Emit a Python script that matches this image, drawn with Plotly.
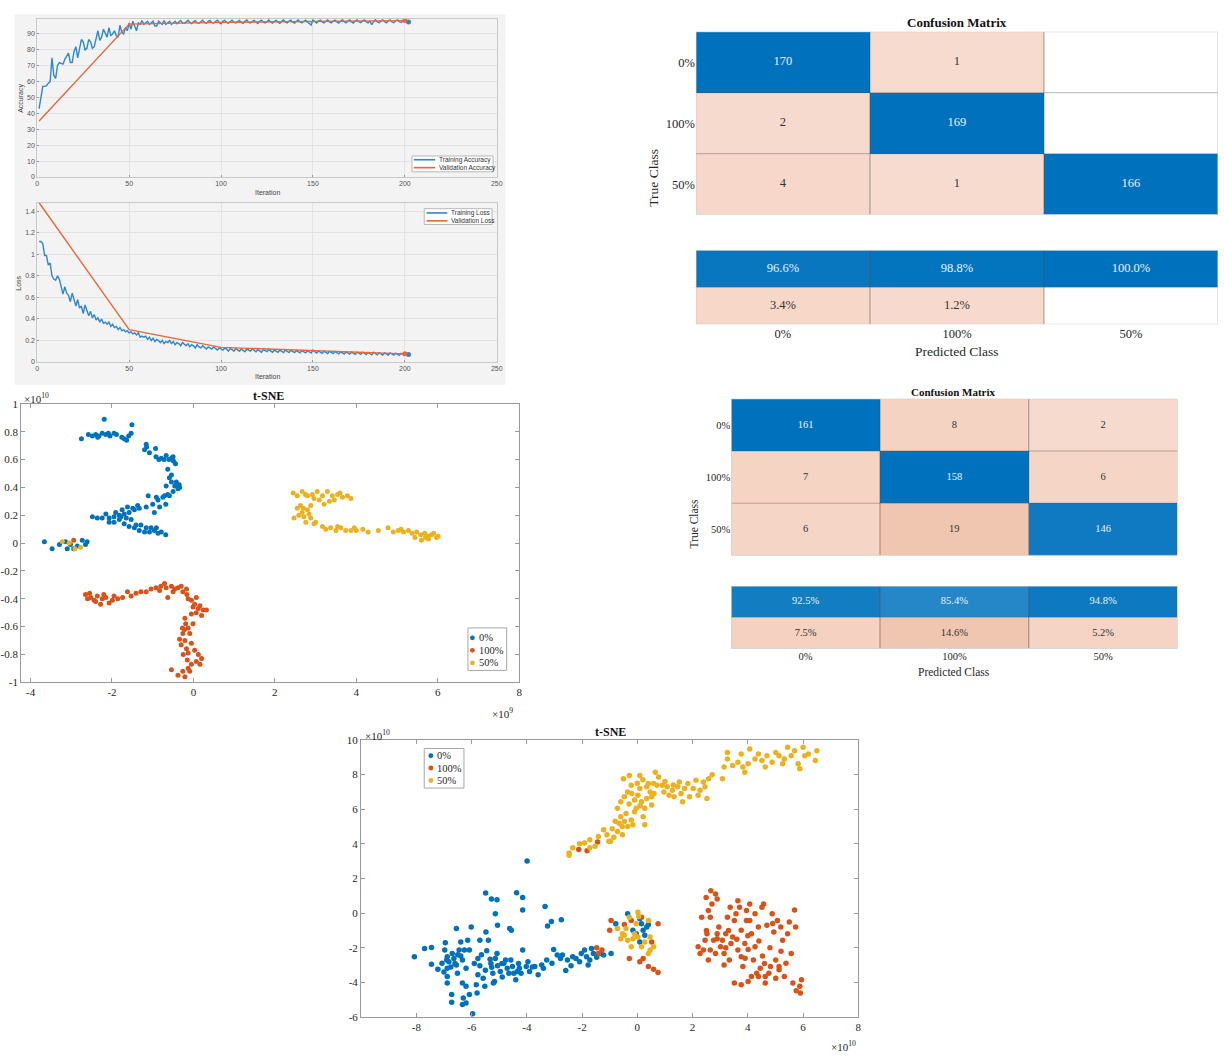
import plotly.graph_objects as go

W, H = 1224, 1062

# ---------------- data ----------------
train_acc = [
    43, 51, 57, 57, 57.5, 59, 60, 75, 64, 62,
    70, 72, 71.5, 71, 74, 76, 78, 72, 72, 79,
    82, 75, 80, 86.5, 85, 80, 81, 86.5, 85, 81,
    82, 87, 92, 86, 88, 93, 90, 88, 94, 89,
    90, 92, 89, 88, 95.5, 91, 90, 94, 92, 97,
    93, 98, 95, 92, 97, 96, 98.5, 96, 97, 98,
    96, 97, 98, 95, 95, 98, 97, 96, 98.5, 96,
    97, 98, 96, 97, 98,
    96.5, 97.5, 98.5, 97, 96.8, 97.6, 98.6, 97.2, 96.5, 97.8,
    98.4, 97, 96.8, 97.7, 98.6, 97.3, 96.6, 97.9, 98.5, 97.1,
    96.9, 97.8, 98.7, 97.2, 96.4, 97.9, 98.6, 97.3, 96.8, 97.7,
    98.7, 97.4, 96.9, 97.8, 98.5, 97.2, 96.7, 98, 98.8, 97.3,
    96.9, 97.9, 98.6, 97.5, 96.6, 98, 98.7, 97.4, 96.9, 97.8,
    98.8, 97.5, 96.8, 98, 98.6, 97.4, 96.7, 97.9, 98.8, 97.5,
    96.9, 98.1, 98.7, 97.4, 96.8, 98, 98.8, 97.6, 96.9, 98,
    98.7, 97.5, 96.6, 95.6, 98.8, 97.6, 96.9, 98.1, 98.7, 97.5,
    96.9, 98, 98.8, 97.6, 97, 98.1, 98.7, 97.5, 96.8, 98,
    98.9, 97.7, 97, 98.2, 98.8, 97.6, 96.8, 98.1, 98.9, 97.7,
    97.1, 98.2, 98.8, 97.5, 96.9, 98.1, 95.8, 97.7, 98.9, 97.6,
    97.1, 98.2, 98.9, 97.7, 97, 98.2, 98.8, 97.6, 97.1, 98.3,
    98.9, 97.8, 97.2, 98.2, 98.9, 97.8, 97.5,
]
val_iter = [1, 50, 100, 150, 200]
val_acc = [35.2, 96.2, 97.3, 97.9, 98.4]

train_loss = [
    1.12, 1.12, 1.1, 0.99, 0.99, 0.9, 0.92, 0.8, 0.77, 0.76,
    0.8, 0.77, 0.7, 0.63, 0.7, 0.64, 0.62, 0.56, 0.64, 0.58,
    0.52, 0.58, 0.5, 0.52, 0.45, 0.53, 0.47, 0.43, 0.47, 0.41,
    0.44, 0.39, 0.41, 0.37, 0.4, 0.36, 0.37, 0.35, 0.37, 0.33,
    0.35, 0.32, 0.33, 0.3, 0.32, 0.29, 0.3, 0.28, 0.29, 0.27,
    0.28, 0.26, 0.27, 0.25, 0.27, 0.23, 0.24, 0.23, 0.24, 0.21,
    0.23, 0.2, 0.22, 0.19, 0.21, 0.2, 0.18, 0.2, 0.17, 0.19,
    0.18, 0.2, 0.17, 0.19, 0.16, 0.18, 0.17, 0.15, 0.18, 0.16,
    0.15, 0.17, 0.14, 0.16, 0.15, 0.13, 0.16, 0.14, 0.13, 0.15,
    0.13, 0.12, 0.14, 0.13, 0.12, 0.14, 0.12, 0.11, 0.13, 0.12,
    0.11, 0.13, 0.12, 0.1, 0.125, 0.115, 0.1, 0.125, 0.11, 0.1,
    0.12, 0.11, 0.095, 0.12, 0.11, 0.1, 0.12, 0.105, 0.095, 0.115,
    0.105, 0.09, 0.115, 0.105, 0.095, 0.115, 0.1, 0.09, 0.11, 0.1,
    0.09, 0.11, 0.1, 0.088, 0.11, 0.1, 0.088, 0.108, 0.098, 0.086,
    0.106, 0.096, 0.085, 0.105, 0.095, 0.084, 0.104, 0.094, 0.082, 0.11,
    0.094, 0.082, 0.102, 0.092, 0.08, 0.1, 0.09, 0.078, 0.098, 0.088,
    0.077, 0.097, 0.087, 0.075, 0.095, 0.085, 0.074, 0.094, 0.084, 0.072,
    0.092, 0.082, 0.07, 0.09, 0.08, 0.07, 0.09, 0.08, 0.068, 0.088,
    0.078, 0.066, 0.09, 0.078, 0.066, 0.086, 0.076, 0.064, 0.084, 0.074,
    0.064, 0.084, 0.074, 0.063, 0.082, 0.072, 0.062, 0.08, 0.071, 0.062,
    0.075, 0.07,
]
val_loss = [1.48, 0.30, 0.135, 0.105, 0.075]

classes = ["0%", "100%", "50%"]
cm1 = [[170, 1, 0],
       [2, 169, 0],
       [4, 1, 166]]
cm2 = [[161, 8, 2],
       [7, 158, 6],
       [6, 19, 146]]

# t-SNE 1 (x in 1e9, y in 1e10)
tsne1_0pct = [
    (-2.19, 0.89), (-2.75, 0.75), (-2.58, 0.78), (-2.48, 0.77), (-2.4, 0.78), (-2.32, 0.77),
    (-2.24, 0.79), (-2.15, 0.78), (-2.09, 0.79), (-1.95, 0.79), (-1.89, 0.78), (-1.76, 0.76),
    (-1.64, 0.74), (-1.59, 0.77), (-1.53, 0.79), (-1.51, 0.85), (-2.35, 0.76), (-2.05, 0.77),
    (-1.7, 0.75),
    (-1.16, 0.71), (-1.2, 0.67), (-1.08, 0.65), (-0.93, 0.68), (-0.92, 0.62), (-0.79, 0.61),
    (-0.67, 0.63), (-0.54, 0.61), (-0.49, 0.59), (-0.44, 0.57), (-0.63, 0.53), (-0.59, 0.47),
    (-1.15, 0.69), (-0.85, 0.6), (-0.6, 0.6), (-0.72, 0.6), (-0.5, 0.62),
    (-0.54, 0.44), (-0.46, 0.41), (-0.38, 0.39), (-0.5, 0.37), (-0.63, 0.35), (-0.75, 0.33),
    (-0.87, 0.31), (-1.0, 0.28), (-0.68, 0.28), (-1.11, 0.34), (-1.16, 0.26), (-1.33, 0.25),
    (-1.45, 0.24), (-1.58, 0.22), (-1.7, 0.21), (-1.82, 0.2), (-1.95, 0.19), (-2.07, 0.18),
    (-2.24, 0.18), (-2.36, 0.18), (-2.48, 0.19), (-2.15, 0.21), (-1.91, 0.22), (-1.75, 0.24),
    (-1.62, 0.26), (-1.49, 0.25), (-1.37, 0.27), (-1.82, 0.17), (-1.7, 0.14), (-1.58, 0.12),
    (-1.45, 0.11), (-1.33, 0.09), (-1.2, 0.08), (-1.08, 0.08), (-0.96, 0.09), (-0.87, 0.07),
    (-0.79, 0.08), (-0.68, 0.06), (-1.16, 0.11), (-1.04, 0.11), (-1.41, 0.13), (-2.07, 0.15),
    (-1.95, 0.15), (-1.78, 0.19), (-1.65, 0.18), (-1.53, 0.17), (-1.29, 0.13), (-0.91, 0.11),
    (-0.83, 0.26), (-0.96, 0.22), (-0.67, 0.41), (-0.42, 0.44), (-0.35, 0.42), (-0.71, 0.34),
    (-0.59, 0.34), (-0.91, 0.33), (-0.54, 0.49), (-0.34, 0.4),
    (-3.66, 0.01), (-3.47, -0.04), (-3.29, -0.01), (-3.1, -0.04), (-3.02, -0.01), (-2.85, -0.02),
    (-2.73, 0.02), (-2.65, -0.01), (-2.61, 0.01), (-3.14, 0.01), (-2.94, -0.04),
]
tsne1_100pct = [
    (-2.65, -0.37), (-2.6, -0.4), (-2.52, -0.39), (-2.44, -0.41), (-2.36, -0.38), (-2.28, -0.44),
    (-2.24, -0.4), (-2.15, -0.39), (-2.07, -0.43), (-1.99, -0.41), (-1.86, -0.4), (-1.74, -0.39),
    (-1.62, -0.35), (-1.53, -0.38), (-1.41, -0.36), (-1.29, -0.35), (-1.16, -0.35), (-1.04, -0.33),
    (-0.92, -0.32), (-0.83, -0.34), (-0.71, -0.29), (-0.67, -0.32), (-0.63, -0.39), (-0.54, -0.31),
    (-0.46, -0.33), (-0.38, -0.32), (-0.3, -0.31), (-0.26, -0.35), (-0.17, -0.33), (-0.16, -0.37),
    (-2.55, -0.36), (-2.4, -0.42), (-2.2, -0.37), (-1.95, -0.38), (-0.8, -0.31), (-0.5, -0.35),
    (-0.13, -0.4), (-0.05, -0.41), (0.07, -0.39), (0.03, -0.44), (0.16, -0.45), (0.24, -0.48),
    (0.32, -0.48), (0.2, -0.52), (0.07, -0.5), (-0.01, -0.46), (-0.05, -0.51), (-0.19, -0.58),
    (-0.27, -0.61), (-0.13, -0.61), (-0.01, -0.58), (-0.26, -0.65), (-0.34, -0.69), (-0.21, -0.7),
    (-0.3, -0.73), (-0.17, -0.76), (-0.05, -0.72), (0.03, -0.77), (0.12, -0.8), (0.2, -0.83),
    (0.07, -0.85), (-0.05, -0.87), (-0.13, -0.9), (-0.26, -0.92), (-0.21, -0.96), (-0.38, -0.95),
    (-0.54, -0.91), (-0.09, -0.92), (0.16, -0.87), (-0.13, -0.79), (-0.09, -0.65), (-0.21, -0.54),
    (0.12, -0.47), (-0.22, -0.62), (-0.25, -0.8), (-0.15, -0.84),
    (-2.94, 0.02),
]
tsne1_50pct = [
    (2.45, 0.36), (2.55, 0.34), (2.67, 0.37), (2.8, 0.34), (2.92, 0.35), (3.04, 0.37),
    (3.17, 0.34), (3.29, 0.37), (3.41, 0.34), (3.54, 0.35), (3.66, 0.33), (3.78, 0.34),
    (3.87, 0.32), (3.46, 0.31), (3.34, 0.3), (3.21, 0.28), (3.09, 0.31), (2.96, 0.32),
    (2.75, 0.35), (3.6, 0.36),
    (2.55, 0.25), (2.67, 0.22), (2.8, 0.24), (2.59, 0.2), (2.47, 0.18), (2.71, 0.19),
    (2.84, 0.21), (2.88, 0.18), (2.76, 0.15), (2.96, 0.14), (2.63, 0.27), (2.88, 0.27),
    (3.0, 0.15), (2.7, 0.25),
    (3.17, 0.12), (3.25, 0.1), (3.37, 0.11), (3.5, 0.09), (3.62, 0.11), (3.74, 0.09),
    (3.87, 0.09), (4.0, 0.09), (4.16, 0.1), (4.29, 0.08), (4.54, 0.09), (4.78, 0.11),
    (4.91, 0.08), (5.03, 0.09), (5.16, 0.08), (5.28, 0.09), (5.37, 0.07), (5.48, 0.08),
    (5.58, 0.06), (5.68, 0.07), (5.77, 0.05), (5.85, 0.06), (5.97, 0.04), (6.01, 0.05),
    (5.44, 0.04), (5.6, 0.02), (5.77, 0.03), (3.54, 0.12), (3.95, 0.11), (5.1, 0.1),
    (5.7, 0.04), (5.9, 0.07),
    (-3.22, 0.01), (-3.05, 0.0), (-2.91, -0.04), (-2.77, -0.03),
]

# t-SNE 2 (x in 1e10, y in 1e10)
tsne2_0pct = [
    (-8.07, -2.51), (-7.7, -2.04), (-7.45, -1.98), (-7.45, -2.95), (-7.22, -3.23), (-7.07, -2.89),
    (-6.95, -1.71), (-6.97, -2.13), (-6.88, -2.51), (-6.82, -2.8), (-6.88, -3.18), (-6.88, -3.65),
    (-6.88, -4.03), (-6.72, -4.7), (-6.72, -5.14), (-6.7, -2.32), (-6.64, -2.61), (-6.55, -2.99),
    (-6.51, -3.46), (-6.55, -0.89), (-6.45, -2.13), (-6.39, -2.47), (-6.33, -2.7), (-6.39, -1.66),
    (-6.26, -2.13), (-6.2, -3.18), (-6.2, -4.22), (-6.33, -4.03), (-6.3, -4.89), (-6.33, -5.27),
    (-6.2, -5.18), (-6.14, -1.56), (-6.08, -2.13), (-6.01, -0.8), (-6.08, -4.7), (-5.96, -5.8),
    (-5.83, -4.13), (-5.8, -4.6), (-5.77, -3.56), (-5.77, -2.61), (-5.7, -3.04), (-5.64, -2.4),
    (-5.58, -3.75), (-5.52, -4.22), (-5.48, -1.08), (-5.45, -2.17), (-5.39, -1.56), (-5.33, -2.66),
    (-5.27, -3.12), (-5.23, -3.46), (-5.21, -4.03), (-5.17, -3.94), (-5.14, -2.61), (-5.08, -2.32),
    (-5.06, -3.04), (-4.96, -3.37), (-4.89, -3.69), (-4.83, -2.89), (-4.77, -2.7), (-4.71, -3.18),
    (-4.65, -3.46), (-4.58, -2.7), (-4.52, -3.08), (-4.47, -3.46), (-4.4, -3.84), (-4.34, -3.37),
    (-4.27, -3.18), (-4.21, -3.46), (-4.15, -2.13), (-4.02, -3.08), (-3.9, -3.37), (-3.96, -2.8),
    (-3.71, -3.08), (-3.59, -3.56), (-3.46, -2.99), (-3.4, -3.18), (-3.28, -2.7), (-3.09, -2.89),
    (-3.03, -2.09), (-2.9, -2.42), (-2.78, -2.61), (-2.71, -2.42), (-2.59, -3.31), (-2.53, -2.7),
    (-2.4, -3.04), (-2.34, -2.51), (-2.22, -2.61), (-2.09, -2.8), (-2.03, -2.32), (-1.91, -2.13),
    (-1.84, -2.51), (-1.78, -2.99), (-1.72, -2.7), (-1.66, -2.04), (-1.59, -2.32), (-1.47, -2.55),
    (-1.34, -2.32), (-1.22, -2.42), (-0.95, -2.32), (-5.7, -1.56), (-6.9, -2.7), (-6.6, -2.9),
    (-6.75, -3.1), (-7.0, -3.4), (-6.5, -2.4), (-5.9, -2.9), (-5.5, -3.3), (-5.3, -2.9),
    (-4.9, -2.9), (-4.3, -2.9), (-3.8, -3.1),
    (-5.49, 1.16), (-5.28, 0.82), (-5.08, 0.78), (-5.14, -0.04), (-5.06, -0.7), (-4.62, -0.89),
    (-4.56, -0.99), (-4.37, 1.18), (-4.15, 0.91), (-4.15, 0.19), (-3.99, 3.01), (-3.34, 0.38),
    (-3.25, -0.74), (-3.11, -0.48), (-2.75, -0.38),
    (-0.78, -0.61), (-0.35, -0.04), (-0.16, -0.99), (0.09, -0.32), (0.15, -0.61), (0.21, -0.99),
    (0.27, -1.27), (0.34, -0.8), (0.4, -0.65), (0.09, -1.66), (-0.04, -1.18),
]
tsne2_100pct = [
    (2.49, 0.91), (2.66, 1.29), (2.83, 1.1), (2.89, 0.82), (2.7, 0.53), (2.57, 0.15),
    (2.33, -0.23), (2.64, -0.23), (2.2, -1.94), (2.27, -2.32), (2.39, -2.13), (2.45, -1.56),
    (2.52, -1.18), (2.57, -2.7), (2.64, -2.13), (2.76, -1.56), (2.83, -2.32), (2.89, -1.18),
    (2.95, -0.8), (3.01, -1.94), (3.08, -1.56), (3.14, -2.32), (3.14, -2.99), (3.2, -1.18),
    (3.26, -0.23), (3.33, -2.7), (3.36, 0.34), (3.39, -1.75), (3.45, -1.37), (3.51, -0.42),
    (3.57, -0.04), (3.64, -2.13), (3.7, 0.34), (3.76, -0.99), (3.76, -2.51), (3.82, -3.08),
    (3.89, -1.75), (3.95, 0.15), (4.01, -2.09), (4.07, 0.53), (4.07, -0.42), (4.13, -1.18),
    (4.2, -2.7), (4.26, -1.94), (4.26, -0.04), (4.32, -3.46), (4.38, -0.8), (4.45, -3.18),
    (4.51, 0.34), (4.53, -2.47), (4.57, 0.53), (4.63, -4.03), (4.69, -0.7), (4.76, -3.46),
    (4.82, -3.08), (4.88, -0.04), (4.94, -1.08), (5.01, -3.75), (5.07, -0.42), (5.13, -3.27),
    (5.19, -0.8), (5.26, -1.56), (5.32, -3.65), (5.38, -2.89), (5.44, -1.18), (5.5, -0.51),
    (5.57, -2.32), (5.63, -4.03), (5.69, 0.19), (5.73, -0.8), (5.75, -4.47), (5.88, -4.22),
    (5.9, -4.6), (5.94, -3.84), (4.01, -3.94), (3.76, -4.13), (3.51, -4.03), (4.13, -3.65),
    (4.63, -3.65), (5.01, -2.7), (5.13, -3.08), (3.64, 0.72), (2.89, -1.47), (3.95, -0.42),
    (4.38, -3.65), (3.3, -1.0), (3.6, -1.5), (4.0, -1.3), (4.4, -1.6), (4.8, -2.0),
    (5.2, -2.2), (4.6, -2.9), (3.9, -2.6), (3.2, -2.0), (2.5, -1.0), (4.9, -0.6),
    (-0.95, -0.42), (-1.0, -0.99), (-0.47, -0.65), (-0.29, -2.61), (0.09, -2.8), (0.21, -2.61),
    (0.4, -3.08), (0.59, -3.23), (0.75, -3.42), (0.75, -0.61), (-0.22, -0.42), (0.15, -0.23),
    (0.52, -1.66), (-1.47, -2.0), (-1.28, -2.13), (-1.41, -2.32),
    (-2.12, 3.67), (-1.82, 3.61), (-1.44, 4.11),
]
tsne2_50pct = [
    (-0.72, -0.89), (-0.6, -1.47), (-0.54, -1.18), (-0.41, -0.89), (-0.35, -1.56), (-0.22, -1.94),
    (-0.16, -1.47), (-0.1, -1.18), (-0.04, -0.61), (0.02, 0.06), (0.05, -0.19), (0.15, -1.94),
    (0.27, -1.66), (0.46, -1.37), (0.46, -2.13), (0.59, -1.94), (-0.29, -0.23), (0.4, -0.42),
    (-0.47, -1.27), (0.02, -1.37), (0.4, -2.32),
    (-2.47, 3.48), (-2.47, 3.35), (-2.34, 3.77), (-2.09, 4.0), (-1.91, 4.05), (-1.72, 4.24),
    (-1.53, 3.86), (-1.41, 4.43), (-1.22, 4.81), (-1.1, 4.53), (-1.03, 4.15), (-0.91, 4.87),
    (-0.85, 4.38), (-0.72, 4.72), (-0.66, 5.19), (-0.54, 4.53), (-0.6, 5.57), (-0.47, 5.29),
    (-0.41, 5.76), (-0.35, 5.0), (-0.22, 5.38), (-0.16, 5.1), (-0.72, 6.05), (-0.6, 6.43),
    (-0.47, 6.72), (-0.35, 7.0), (-0.5, 7.76), (-0.29, 7.95), (-0.22, 7.38), (-0.1, 6.53),
    (-0.04, 6.05), (0.02, 6.81), (0.09, 7.19), (0.09, 7.95), (0.15, 6.43), (0.21, 5.57),
    (0.27, 6.05), (0.34, 7.29), (0.34, 6.62), (0.4, 7.48), (0.46, 7.0), (0.52, 6.72),
    (0.59, 7.48), (0.65, 8.14), (0.71, 7.38), (0.77, 7.86), (0.9, 7.38), (0.96, 7.0),
    (1.08, 7.29), (1.15, 6.81), (1.27, 7.1), (1.33, 6.72), (1.46, 7.29), (1.52, 7.57),
    (1.58, 6.91), (1.64, 6.43), (1.71, 7.19), (1.83, 7.48), (1.89, 6.72), (2.02, 7.19),
    (2.12, 7.67), (2.2, 6.81), (2.27, 7.1), (2.39, 7.57), (2.45, 7.29), (2.58, 7.76),
    (2.71, 7.99), (3.08, 7.76), (3.14, 8.43), (3.26, 9.28), (3.26, 8.9), (3.45, 8.52),
    (3.64, 8.71), (3.76, 9.19), (3.82, 8.43), (3.89, 8.14), (4.01, 8.62), (4.07, 9.47),
    (4.26, 8.9), (4.38, 9.19), (4.51, 8.81), (4.63, 8.43), (4.69, 9.09), (4.88, 8.71),
    (5.01, 9.28), (5.13, 9.09), (5.26, 8.62), (5.32, 8.9), (5.44, 9.57), (5.57, 9.09),
    (5.69, 9.38), (5.82, 8.62), (5.88, 8.33), (6.0, 9.57), (6.06, 9.09), (6.19, 9.19),
    (6.44, 8.81), (6.5, 9.38), (2.52, 6.62), (0.52, 6.24), (-0.1, 5.86), (0.27, 5.1),
    (-0.97, 4.15), (-1.72, 3.77), (-0.3, 6.3), (0.1, 6.2), (-0.2, 6.9), (0.6, 6.9),
    (1.0, 7.6), (1.3, 7.4), (-0.55, 5.0), (-0.8, 5.3), (0.0, 7.5), (0.2, 7.7),
]

tsne1_xticks = [-4, -2, 0, 2, 4, 6, 8]
tsne1_yticks = [-1, -0.8, -0.6, -0.4, -0.2, 0, 0.2, 0.4, 0.6, 0.8, 1]
tsne2_xticks = [-8, -6, -4, -2, 0, 2, 4, 6, 8]
tsne2_yticks = [-6, -4, -2, 0, 2, 4, 6, 8, 10]

# ---------------- helpers ----------------
def fx(p):
    return p / W


def fy(p):
    return 1 - p / H


def ydom(top, bottom):
    return [fy(bottom), fy(top)]


def lab(v):
    return "%g" % v


SERIF = "Liberation Serif"
SANS = "Liberation Sans"
BLUE = "#0072BD"
ORANGE = "#D95319"
YELLOW = "#EDB120"
TBLUE = "#2F86CC"
TORANGE = "#E8663A"
LIGHT_TXT = "#EAF2FA"
DARK_TXT = "#333333"

fig = go.Figure()

# ---------- training progress ----------
it_train = list(range(1, len(train_acc) + 1))
it_loss = list(range(1, len(train_loss) + 1))
fig.add_trace(go.Scatter(x=it_train, y=train_acc, mode="lines", line=dict(color=TBLUE, width=1.4),
                         name="Training Accuracy", xaxis="x", yaxis="y"))
fig.add_trace(go.Scatter(x=val_iter, y=val_acc, mode="lines", line=dict(color=TORANGE, width=1.4),
                         name="Validation Accuracy", xaxis="x", yaxis="y"))
fig.add_trace(go.Scatter(x=[it_train[-1]], y=[train_acc[-1]], mode="markers", marker=dict(color=TBLUE, size=5),
                         xaxis="x", yaxis="y"))
fig.add_trace(go.Scatter(x=[val_iter[-1]], y=[val_acc[-1]], mode="markers", marker=dict(color=TORANGE, size=5),
                         xaxis="x", yaxis="y"))

fig.add_trace(go.Scatter(x=it_loss, y=train_loss, mode="lines", line=dict(color=TBLUE, width=1.4),
                         name="Training Loss", xaxis="x2", yaxis="y2"))
fig.add_trace(go.Scatter(x=val_iter, y=val_loss, mode="lines", line=dict(color=TORANGE, width=1.4),
                         name="Validation Loss", xaxis="x2", yaxis="y2"))
fig.add_trace(go.Scatter(x=[it_loss[-1]], y=[train_loss[-1]], mode="markers", marker=dict(color=TBLUE, size=5),
                         xaxis="x2", yaxis="y2"))
fig.add_trace(go.Scatter(x=[val_iter[-1]], y=[val_loss[-1]], mode="markers", marker=dict(color=TORANGE, size=5),
                         xaxis="x2", yaxis="y2"))

# ---------- confusion matrices ----------
BLUE_SCALE = [[0, "#ffffff"], [1, BLUE]]
PEACH_SCALE = [[0, "#ffffff"], [0.001, "#F7DCD0"], [1, "#EFBFA6"]]


def add_cm(cm, xa, ya, xs, ys, fsize):
    n = len(cm)
    idx = list(range(n))
    zd = [[cm[i][j] if i == j else None for j in idx] for i in idx]
    zo = [[cm[i][j] if i != j else None for j in idx] for i in idx]
    fig.add_trace(go.Heatmap(z=zo, x=idx, y=idx, colorscale=PEACH_SCALE, zmin=0, zmax=25, showscale=False,
                             xaxis=xa, yaxis=ya, hoverinfo="skip"))
    fig.add_trace(go.Heatmap(z=zd, x=idx, y=idx, colorscale=BLUE_SCALE, zmin=0, zmax=155, showscale=False,
                             xaxis=xa, yaxis=ya, hoverinfo="skip"))
    tx, ty, tt, tc = [], [], [], []
    for i in idx:
        for j in idx:
            if cm[i][j]:
                tx.append(j)
                ty.append(i)
                tt.append(str(cm[i][j]))
                tc.append(LIGHT_TXT if i == j else DARK_TXT)
    fig.add_trace(go.Scatter(x=tx, y=ty, text=tt, mode="text", textposition="middle center",
                             textfont=dict(family=SERIF, size=fsize, color=tc), xaxis=xa, yaxis=ya,
                             hoverinfo="skip"))

    colsum = [sum(cm[i][j] for i in idx) for j in idx]
    prec = [100.0 * cm[j][j] / colsum[j] for j in idx]
    fdr = [100.0 - p for p in prec]
    fig.add_trace(go.Heatmap(z=[prec], x=idx, y=[0], colorscale=BLUE_SCALE, zmin=0, zmax=100, showscale=False,
                             xaxis=xs, yaxis=ys, hoverinfo="skip"))
    fig.add_trace(go.Heatmap(z=[fdr], x=idx, y=[1], colorscale=PEACH_SCALE, zmin=0, zmax=19, showscale=False,
                             xaxis=xs, yaxis=ys, hoverinfo="skip"))
    sx, sy, st, sc = [], [], [], []
    for j in idx:
        sx.append(j)
        sy.append(0)
        st.append("%.1f%%" % prec[j])
        sc.append(LIGHT_TXT)
        if fdr[j] > 0.05:
            sx.append(j)
            sy.append(1)
            st.append("%.1f%%" % fdr[j])
            sc.append(DARK_TXT)
    fig.add_trace(go.Scatter(x=sx, y=sy, text=st, mode="text", textposition="middle center",
                             textfont=dict(family=SERIF, size=fsize, color=sc), xaxis=xs, yaxis=ys,
                             hoverinfo="skip"))

    shapes = []
    for (xr, yr, nr) in ((xa, ya, n), (xs, ys, 2)):
        for k in range(1, n):
            shapes.append(dict(type="line", xref=xr, yref=yr, x0=k - 0.5, x1=k - 0.5, y0=-0.5, y1=nr - 0.5,
                               line=dict(color="rgba(80,80,80,0.55)", width=1), layer="above"))
        for k in range(1, nr):
            shapes.append(dict(type="line", xref=xr, yref=yr, x0=-0.5, x1=n - 0.5, y0=k - 0.5, y1=k - 0.5,
                               line=dict(color="rgba(80,80,80,0.4)", width=1), layer="above"))
        shapes.append(dict(type="rect", xref=xr, yref=yr, x0=-0.5, x1=n - 0.5, y0=-0.5, y1=nr - 0.5,
                           line=dict(color="#c8c8c8", width=1), layer="above"))
    return shapes


shapes = []
shapes.append(dict(type="rect", xref="paper", yref="paper", x0=fx(12.5), x1=fx(507), y0=fy(383), y1=fy(8.3),
                   fillcolor="#f3f3f3", line=dict(width=0), layer="below"))
shapes += add_cm(cm1, "x3", "y3", "x4", "y4", 12.5)
shapes += add_cm(cm2, "x6", "y6", "x7", "y7", 10.5)

# ---------- t-SNE ----------
sne1 = ((tsne1_0pct, "0%", BLUE), (tsne1_100pct, "100%", ORANGE), (tsne1_50pct, "50%", YELLOW))
sne2 = ((tsne2_0pct, "0%", BLUE), (tsne2_100pct, "100%", ORANGE), (tsne2_50pct, "50%", YELLOW))
for pts, nm, col in sne1:
    fig.add_trace(go.Scatter(x=[p[0] for p in pts], y=[p[1] for p in pts], mode="markers", name=nm,
                             marker=dict(color=col, size=5), xaxis="x5", yaxis="y5"))
for pts, nm, col in sne2:
    fig.add_trace(go.Scatter(x=[p[0] for p in pts], y=[p[1] for p in pts], mode="markers", name=nm,
                             marker=dict(color=col, size=5.5), xaxis="x8", yaxis="y8"))

# ---------- axes ----------
train_ax = dict(showgrid=True, gridcolor="#e3e3e3", showline=True, linecolor="#c8c8c8", mirror=True,
                zeroline=False, ticks="inside", ticklen=2, tickcolor="#999",
                tickfont=dict(family=SANS, size=7, color="#555555"))
cm_ax = dict(showgrid=False, zeroline=False, showline=False, ticks="")
sne_ax = dict(showgrid=False, zeroline=False, showline=True, linecolor="#9a9a9a", mirror="ticks",
              ticks="inside", ticklen=4, tickcolor="#9a9a9a", tickfont=dict(family=SERIF, size=11, color="#262626"))

n = len(classes)
layout = dict(
    width=W, height=H, margin=dict(l=0, r=0, t=0, b=0), paper_bgcolor="white", plot_bgcolor="white",
    showlegend=False,
    xaxis=dict(domain=[fx(35.5), fx(498)], range=[0, 250], tickvals=[0, 50, 100, 150, 200, 250], anchor="y", **train_ax),
    yaxis=dict(domain=ydom(13, 173), range=[0, 99.5], tickvals=list(range(0, 100, 10)), anchor="x", **train_ax),
    xaxis2=dict(domain=[fx(35.5), fx(498)], range=[0, 250], tickvals=[0, 50, 100, 150, 200, 250], anchor="y2", **train_ax),
    yaxis2=dict(domain=ydom(199, 360), range=[0, 1.48], tickvals=[0, 0.2, 0.4, 0.6, 0.8, 1, 1.2, 1.4],
                ticktext=["0", "0.2", "0.4", "0.6", "0.8", "1", "1.2", "1.4"], anchor="x2", **train_ax),
    xaxis3=dict(domain=[fx(698.5), fx(1224)], range=[-0.5, n - 0.5], showticklabels=False, anchor="y3", **cm_ax),
    yaxis3=dict(domain=ydom(26, 211), range=[n - 0.5, -0.5], tickvals=list(range(n)), ticktext=classes,
                tickfont=dict(family=SERIF, size=12.5, color="#262626"), anchor="x3", **cm_ax),
    xaxis4=dict(domain=[fx(698.5), fx(1224)], range=[-0.5, n - 0.5], tickvals=list(range(n)), ticktext=classes,
                tickfont=dict(family=SERIF, size=12.5, color="#262626"), anchor="y4", **cm_ax),
    yaxis4=dict(domain=ydom(247, 322), range=[1.5, -0.5], showticklabels=False, anchor="x4", **cm_ax),
    xaxis6=dict(domain=[fx(734), fx(1183.3)], range=[-0.5, n - 0.5], showticklabels=False, anchor="y6", **cm_ax),
    yaxis6=dict(domain=ydom(397.3, 555.7), range=[n - 0.5, -0.5], tickvals=list(range(n)), ticktext=classes,
                tickfont=dict(family=SERIF, size=10.5, color="#262626"), anchor="x6", **cm_ax),
    xaxis7=dict(domain=[fx(734), fx(1183.3)], range=[-0.5, n - 0.5], tickvals=list(range(n)), ticktext=classes,
                tickfont=dict(family=SERIF, size=10.5, color="#262626"), anchor="y7", **cm_ax),
    yaxis7=dict(domain=ydom(586.7, 650), range=[1.5, -0.5], showticklabels=False, anchor="x7", **cm_ax),
    xaxis5=dict(domain=[fx(19.3), fx(520.6)], range=[-4.23, 8], tickvals=tsne1_xticks,
                ticktext=[lab(v) for v in tsne1_xticks], anchor="y5", **sne_ax),
    yaxis5=dict(domain=ydom(402.5, 684), range=[-1, 1], tickvals=tsne1_yticks,
                ticktext=[lab(v) for v in tsne1_yticks], anchor="x5", **sne_ax),
    xaxis8=dict(domain=[fx(361.4), fx(862)], range=[-10, 8], tickvals=tsne2_xticks,
                ticktext=[lab(v) for v in tsne2_xticks], anchor="y8", **sne_ax),
    yaxis8=dict(domain=ydom(742.3, 1022.7), range=[-6, 10], tickvals=tsne2_yticks,
                ticktext=[lab(v) for v in tsne2_yticks], anchor="x8", **sne_ax),
)

ann = []


def A(x, y, text, size, family=SERIF, bold=False, color="#262626", angle=0, xanchor="center", yanchor="middle"):
    t = "<b>%s</b>" % text if bold else text
    ann.append(dict(x=fx(x), y=fy(y), xref="paper", yref="paper", text=t, showarrow=False, textangle=angle,
                    xanchor=xanchor, yanchor=yanchor, font=dict(family=family, size=size, color=color)))


def legend_box(x0, y0, x1, y1, border):
    shapes.append(dict(type="rect", xref="paper", yref="paper", x0=fx(x0), x1=fx(x1), y0=fy(y1), y1=fy(y0),
                       fillcolor="white", line=dict(color=border, width=1), layer="above"))


def legend_line(x0, x1, y, color, text, tx):
    shapes.append(dict(type="line", xref="paper", yref="paper", x0=fx(x0), x1=fx(x1), y0=fy(y), y1=fy(y),
                       line=dict(color=color, width=1.6), layer="above"))
    A(tx, y, text, 6.5, SANS, color="#333333", xanchor="left")


def legend_dot(cx, cy, r, color, text, tx, size):
    shapes.append(dict(type="circle", xref="paper", yref="paper", x0=fx(cx - r), x1=fx(cx + r),
                       y0=fy(cy + r), y1=fy(cy - r), fillcolor=color, line=dict(width=0), layer="above"))
    A(tx, cy, text, size, SERIF, color="#262626", xanchor="left")


# training legends
legend_box(412.7, 151.7, 494.3, 167.7, "#b8b8b8")
legend_line(414.5, 436, 155.5, TBLUE, "Training Accuracy", 437.5)
legend_line(414.5, 436, 163.5, TORANGE, "Validation Accuracy", 437.5)
legend_box(425, 205, 493.3, 221, "#b8b8b8")
legend_line(427.3, 448.3, 209.3, TBLUE, "Training Loss", 449.5)
legend_line(427.3, 448.3, 217.3, TORANGE, "Validation Loss", 449.5)

# t-SNE legends
legend_box(469, 629, 508, 672, "#a8a8a8")
for k, (pts, nm, col) in enumerate(sne1):
    legend_dot(473.5, 639 + 12.7 * k, 2.4, col, nm, 478.5, 10.5)
legend_box(425, 751, 465, 791, "#a8a8a8")
for k, (pts, nm, col) in enumerate(sne2):
    legend_dot(431.7, 758.3 + 12.5 * k, 2.5, col, nm, 436, 10.5)

# training labels
A(19, 93, "Accuracy", 7, SANS, color="#444", angle=-90)
A(267, 189, "Iteration", 7, SANS, color="#444")
A(17, 280, "Loss", 7, SANS, color="#444", angle=-90)
A(267, 375, "Iteration", 7, SANS, color="#444")
# confusion 1
A(961, 17, "Confusion Matrix", 13, bold=True, color="#111")
A(655, 174, "True Class", 13.5, angle=-90)
A(961, 349, "Predicted Class", 13.5)
# confusion 2
A(958, 390, "Confusion Matrix", 11, bold=True, color="#111")
A(697, 523, "True Class", 11.5, angle=-90)
A(958, 674, "Predicted Class", 11.5)
# t-SNE 1
A(268, 394, "t-SNE", 12, bold=True, color="#111")
A(20, 396, "×10<sup>10</sup>", 11, xanchor="left")
A(516, 715, "×10<sup>9</sup>", 11, xanchor="right")
# t-SNE 2
A(612, 734, "t-SNE", 12, bold=True, color="#111")
A(363, 737, "×10<sup>10</sup>", 11, xanchor="left")
A(862, 1052, "×10<sup>10</sup>", 11, xanchor="right")

layout["shapes"] = shapes
layout["annotations"] = ann
fig.update_layout(**layout)

# remove the page margin and make the figure fill the browser viewport exactly
fit_script = """
document.documentElement.style.margin='0';
document.documentElement.style.padding='0';
document.body.style.margin='0';
document.body.style.padding='0';
document.body.style.overflow='hidden';
var gd = document.getElementById('{plot_id}');
var w = document.documentElement.clientWidth || window.innerWidth;
var h = document.documentElement.clientHeight || window.innerHeight;
if (w > 0 && h > 0 && (w !== %d || h !== %d)) {
  gd.style.width = w + 'px';
  gd.style.height = h + 'px';
  Plotly.relayout(gd, {width: w, height: h});
}
""" % (W, H)
fig.write_html("out.html", config={"displayModeBar": False}, post_script=fit_script)
